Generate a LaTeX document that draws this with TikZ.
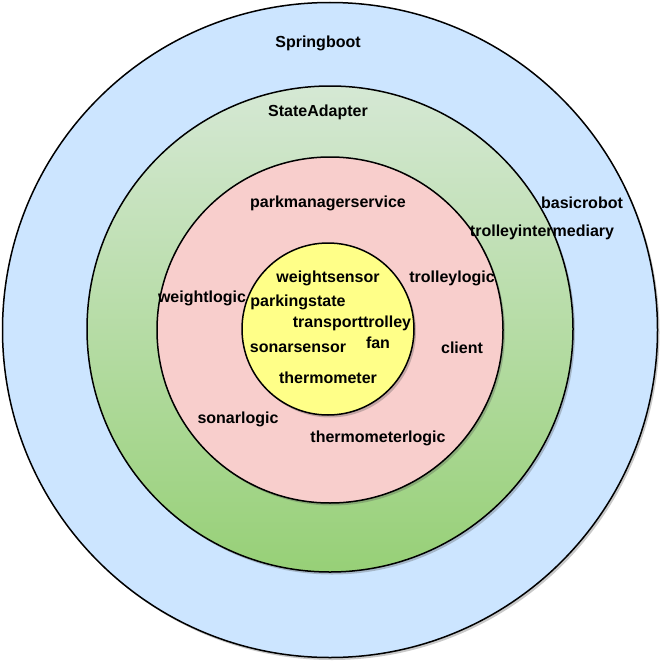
\documentclass[tikz,border=0pt]{standalone}
\usepackage{fontspec}
\setmainfont{Liberation Sans}
\usetikzlibrary{shadows}
\definecolor{layerblue}{HTML}{CCE5FF}
\definecolor{layergreentop}{HTML}{D5E8D4}
\definecolor{layergreenbot}{HTML}{97D077}
\definecolor{layerpink}{HTML}{F8CECC}
\definecolor{layeryellow}{HTML}{FFFF88}

\begin{document}
\begin{tikzpicture}[x=1pt, y=-1pt,
  layer/.style={circle, draw=black, line width=1.5pt, inner sep=0pt,
                drop shadow={shadow xshift=2pt, shadow yshift=-2.5pt, opacity=0.3, fill=black!70}},
  lbl/.style={font=\fontsize{16}{18}\selectfont\bfseries, inner sep=0pt}
]
  \useasboundingbox (0,0) rectangle (660,661);
  % layers
  \node[layer, fill=layerblue, minimum size=655pt] (springboot) at (330,330) {};
  \node[layer, top color=layergreentop, bottom color=layergreenbot, minimum size=486pt] (stateadapter) at (330,329) {};
  \node[layer, fill=layerpink, minimum size=346pt] (parkmanager) at (330,330) {};
  \node[layer, fill=layeryellow, minimum size=172pt] (core) at (328,329) {};
  % outer labels
  \node[lbl] (lspring) at (318,43) {Springboot};
  \node[lbl] (lstate) at (318,112) {StateAdapter};
  \node[lbl] (lbasic) at (582,203) {basicrobot};
  \node[lbl] (linter) at (542,232) {trolleyintermediary};
  % actor labels
  \node[lbl] (lpark) at (328,203) {parkmanagerservice};
  \node[lbl] (ltrolley) at (452,278) {trolleylogic};
  \node[lbl] (lweight) at (202,298) {weightlogic};
  \node[lbl] (lclient) at (462,348) {client};
  \node[lbl] (lsonar) at (238,419) {sonarlogic};
  \node[lbl] (lthermo) at (378,438) {thermometerlogic};
  % core labels
  \node[lbl] (lwsensor) at (328,278) {weightsensor};
  \node[lbl] (lpstate) at (298,302) {parkingstate};
  \node[lbl] (ltransport) at (352,323) {transporttrolley};
  \node[lbl] (lfan) at (378,343) {fan};
  \node[lbl] (lssensor) at (298,348) {sonarsensor};
  \node[lbl] (lthermometer) at (328,378) {thermometer};
\end{tikzpicture}
\end{document}
